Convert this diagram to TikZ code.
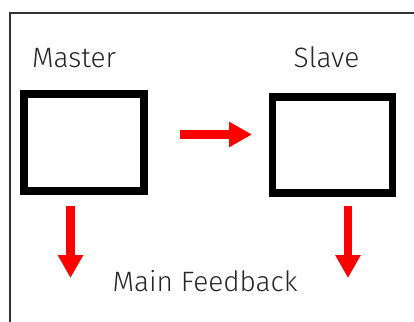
\documentclass[tikz,border=0pt]{standalone}
\usepackage{fontspec}
\setmainfont{Fira Sans}[UprightFont=* Light]
\usetikzlibrary{arrows.meta}
\begin{document}
\begin{tikzpicture}[x=1pt,y=-1pt,
  unit/.style={draw=black,line width=7.5pt,inner sep=0pt,outer sep=0pt,fill=white},
  label/.style={font=\fontsize{28}{30}\selectfont,anchor=base,text=black!85},
  flow/.style={draw=red,line width=8.5pt,-{Triangle[length=23pt,width=24pt]}}]
\useasboundingbox (0,0) rectangle (414,321);
% outer frame (only its top and left edges are inside the page)
\draw[line width=2pt,black!80] (10,330) -- (10,13) -- (420,13);
% the two units
\node[unit,minimum width=120pt,minimum height=97pt] (master) at (84,142.5) {};
\node[unit,minimum width=120pt,minimum height=96pt] (slave) at (332.5,145) {};
% titles
\node[label] (tm) at (74,67) {Master};
\node[label] (ts) at (326.5,67) {Slave};
\node[label] (tf) at (205,291) {Main Feedback};
% outputs
\coordinate (mout) at (70.5,278);
\coordinate (sout) at (348,278);
% connectors
\draw[flow] ([xshift=36pt,yshift=8pt]master.east) -- ([xshift=-20.5pt,yshift=10.5pt]slave.west);
\draw[flow,shorten <=15pt] ([xshift=-13.5pt]master.south) -- (mout);
\draw[flow,shorten <=13pt] ([xshift=15.5pt]slave.south) -- (sout);
\end{tikzpicture}
\end{document}
